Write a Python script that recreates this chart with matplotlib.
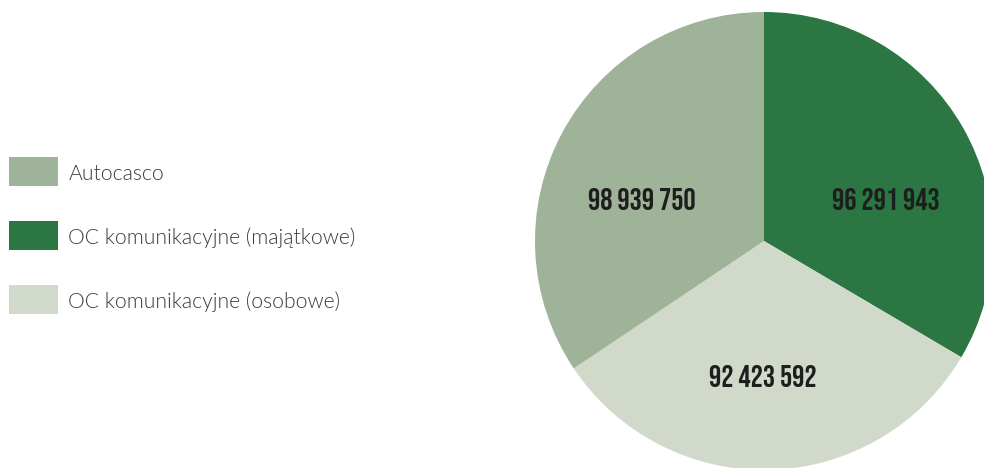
import matplotlib
matplotlib.use("Agg")
import matplotlib.pyplot as plt
from matplotlib.patches import Rectangle

categories = ["OC komunikacyjne (majątkowe)", "OC komunikacyjne (osobowe)", "Autocasco"]
values = [96291943, 92423592, 98939750]
colors = ["#2b7642", "#d0d9ca", "#9fb398"]
legend_order = ["Autocasco", "OC komunikacyjne (majątkowe)", "OC komunikacyjne (osobowe)"]

W, H, DPI = 984, 468, 100
fig = plt.figure(figsize=(W / DPI, H / DPI), dpi=DPI)
fig.patch.set_facecolor("white")

# pie axes: centre and radius given in pixels
cx, cy, r = 764, 241, 229
ax = fig.add_axes([(cx - r) / W, (H - cy - r) / H, 2 * r / W, 2 * r / H])
wedges, _ = ax.pie(values, colors=colors, startangle=90, counterclock=False,
                   radius=1.0, wedgeprops=dict(linewidth=0))
for w in wedges:
    w.set_clip_on(False)
ax.set_xlim(-1, 1)
ax.set_ylim(-1, 1)
ax.set_aspect("equal")
ax.axis("off")


def fmt(v):
    return f"{v:,}".replace(",", " ")


def to_data(px, py):
    return (px - cx) / r, (cy - py) / r


# value labels (centre x, baseline y) in pixels
label_px = {0: (886, 209.5), 1: (763, 387), 2: (642, 209.5)}
for i, v in enumerate(values):
    x, y = to_data(*label_px[i])
    ax.text(x, y, fmt(v), ha="center", va="baseline", fontsize=22,
            family="Bebas Neue", color="#1e1e1e")

# legend: swatches and labels
legend_top = [157, 221, 285]
for name, top in zip(legend_order, legend_top):
    col = colors[categories.index(name)]
    fig.add_artist(Rectangle((9 / W, 1 - (top + 29) / H), 49 / W, 29 / H,
                             transform=fig.transFigure, facecolor=col,
                             edgecolor="none"))
    fig.text(68.5 / W, 1 - (top + 22.5) / H, name, ha="left", va="baseline",
             fontsize=15.2, family="Lato", fontweight=300, color="#3a3a3a")

fig.savefig("out.png", dpi=DPI)
